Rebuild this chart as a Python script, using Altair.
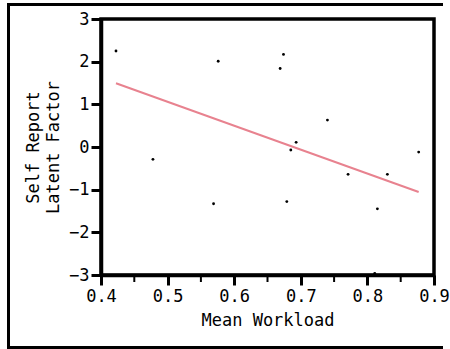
import altair as alt
import pandas as pd

workload = [0.4225, 0.478, 0.569, 0.576, 0.669, 0.674, 0.679, 0.685, 0.693, 0.740, 0.771, 0.811, 0.815, 0.830, 0.877]
latent = [2.25, -0.29, -1.33, 2.01, 1.84, 2.17, -1.28, -0.07, 0.11, 0.63, -0.64, -2.96, -1.45, -0.64, -0.12]
x_major = [0.4, 0.5, 0.6, 0.7, 0.8, 0.9]
x_minor = [0.45, 0.55, 0.65, 0.75, 0.85]
y_ticks = [-3, -2, -1, 0, 1, 2, 3]

df = pd.DataFrame({"w": workload, "s": latent})
FONT = "DejaVu Sans Mono"

xscale = alt.Scale(domain=[0.4, 0.9], nice=False, zero=False)
yscale = alt.Scale(domain=[-3, 3], nice=False, zero=False)

base = alt.Chart(df)

points = base.mark_circle(size=8, color="black", opacity=1).encode(
    x=alt.X("w:Q", scale=xscale,
            axis=alt.Axis(values=x_major, format=".1f",
                          title="Mean Workload", titlePadding=8,
                          tickSize=10, tickWidth=3, domainWidth=3.5,
                          labelPadding=3)),
    y=alt.Y("s:Q", scale=yscale,
            axis=alt.Axis(values=y_ticks, format="d",
                          title=["Self Report  ", "Latent Factor"],
                          titlePadding=6, titleLineHeight=20,
                          tickSize=10, tickWidth=3, domainWidth=3.5,
                          labelPadding=2)),
)

minor = alt.Chart(pd.DataFrame({"m": x_minor})).mark_rule(
    color="black", strokeWidth=2, clip=False
).encode(
    x=alt.X("m:Q", scale=xscale),
    y=alt.value(256), y2=alt.value(263),
)

fit = base.mark_line(color="#e8828f", strokeWidth=2).transform_regression(
    "w", "s"
).encode(x=alt.X("w:Q", scale=xscale), y=alt.Y("s:Q", scale=yscale))

one = alt.Data(values=[{}])
edge = dict(color="black", strokeWidth=3, clip=False)
frame_top = alt.Chart(one).mark_rule(**edge).encode(
    x=alt.value(-94), x2=alt.value(342), y=alt.value(-14.5))
frame_bottom = alt.Chart(one).mark_rule(**edge).encode(
    x=alt.value(-94), x2=alt.value(342), y=alt.value(328.5))
frame_left = alt.Chart(one).mark_rule(**edge).encode(
    x=alt.value(-92.5), y=alt.value(-16), y2=alt.value(330))

chart = alt.layer(points, minor, fit, frame_top, frame_bottom, frame_left).properties(
    width=333, height=256,
    autosize=alt.AutoSizeParams(type="none"),
    padding={"left": 101, "top": 19, "right": 16, "bottom": 74},
).configure_view(
    stroke="black", strokeWidth=3.5
).configure_axis(
    grid=False, domainColor="black", tickColor="black",
    labelFont=FONT, titleFont=FONT, labelFontSize=17, titleFontSize=17,
    labelColor="black", titleColor="black", titleFontWeight="normal",
    labelFlush=False, labelOverlap=False,
)

chart.save("out.html", embed_options={"renderer": "svg", "actions": False})
